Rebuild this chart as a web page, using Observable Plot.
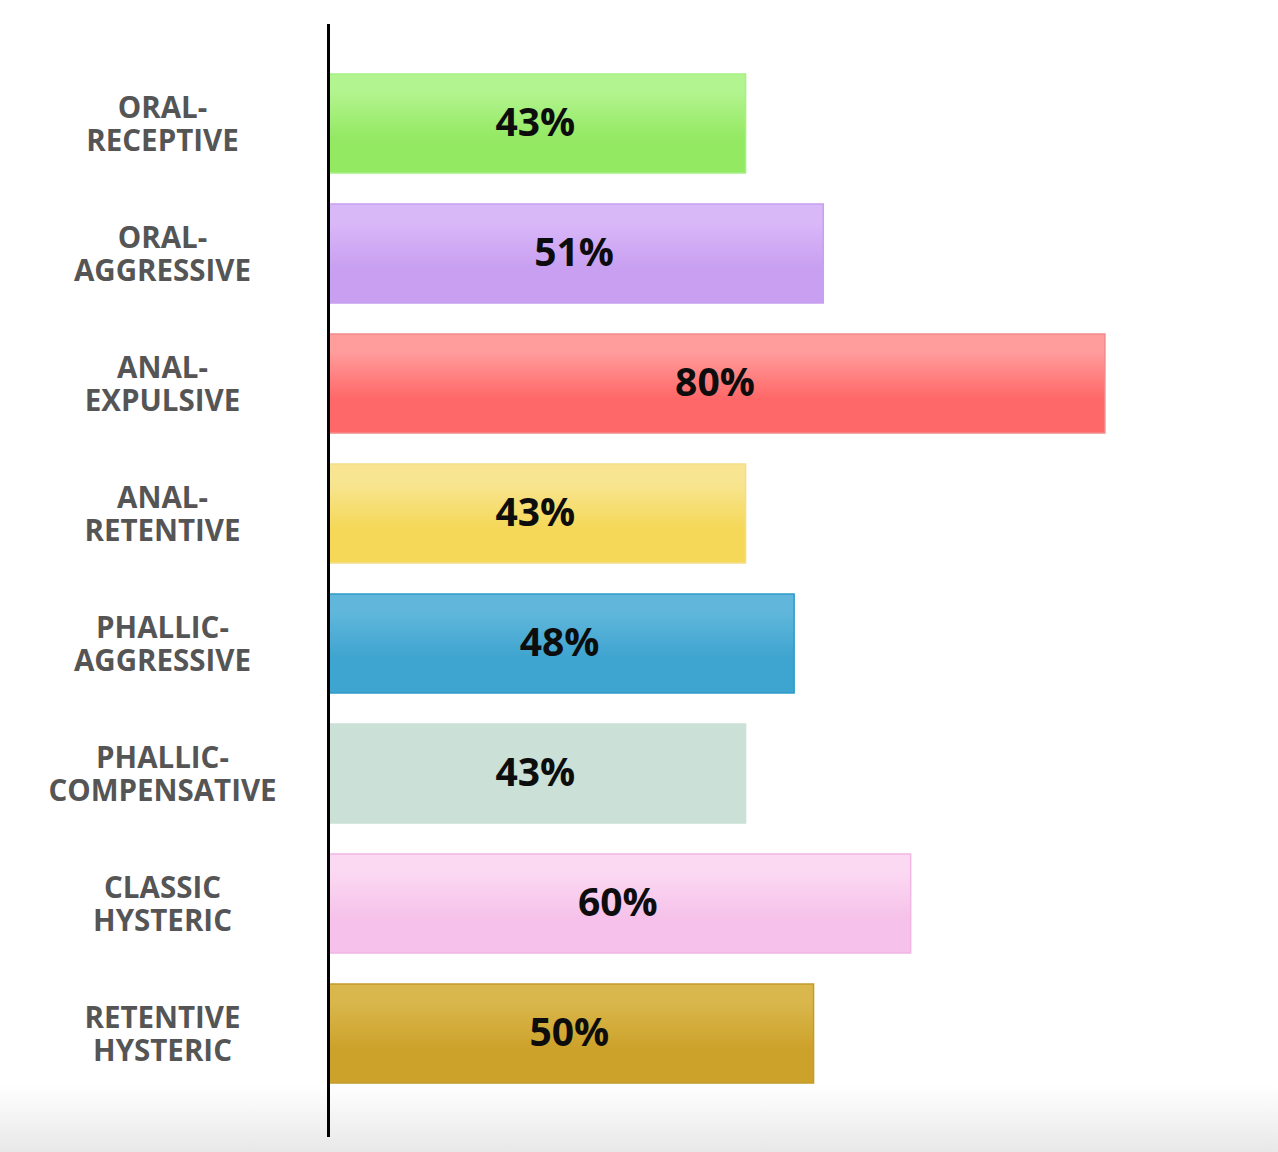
<!DOCTYPE html>
<html>
<head>
<meta charset="utf-8">
<script src="https://cdn.jsdelivr.net/npm/d3@7"></script>
<script src="https://cdn.jsdelivr.net/npm/@observablehq/plot@0.6"></script>
<style>
  html, body { margin: 0; padding: 0; }
  body {
    width: 1278px; height: 1152px; overflow: hidden;
    background: linear-gradient(to bottom, #ffffff 0px, #ffffff 1085px, #e8e8e8 1152px);
  }
</style>
</head>
<body>
<div id="chart"></div>
<script>
const categories = [
  "ORAL-RECEPTIVE", "ORAL-AGGRESSIVE", "ANAL-EXPULSIVE", "ANAL-RETENTIVE",
  "PHALLIC-AGGRESSIVE", "PHALLIC-COMPENSATIVE", "CLASSIC HYSTERIC", "RETENTIVE HYSTERIC"
];
const tickLabels = [
  "ORAL-\nRECEPTIVE", "ORAL-\nAGGRESSIVE", "ANAL-\nEXPULSIVE", "ANAL-\nRETENTIVE",
  "PHALLIC-\nAGGRESSIVE", "PHALLIC-\nCOMPENSATIVE", "CLASSIC\nHYSTERIC", "RETENTIVE\nHYSTERIC"
];
const values = [43, 51, 80, 43, 48, 43, 60, 50];

const topColors    = ["#b2f48f", "#d9b8f8", "#ff9c9c", "#f8e592", "#60b7db", "#cbe0d6", "#fbd9f2", "#d9b74c"];
const bottomColors = ["#94e963", "#c89ff1", "#ff6868", "#f5d858", "#3ea4d0", "#cbe0d6", "#f6c1ea", "#cda22b"];
const strokeColors = ["#a6ef85", "#c89ff1", "#f28a8a", "#f3dd8a", "#2f9bc9", "#cbe0d6", "#f1b6e3", "#c39b2a"];

const data = categories.map((c, i) => ({category: c, value: values[i], idx: i}));

const plot = Plot.plot({
  width: 1278,
  height: 1152,
  marginLeft: 328,
  marginRight: 76,
  marginTop: 24,
  marginBottom: 15,
  style: {background: "transparent", fontFamily: "'Open Sans', sans-serif"},
  x: {domain: [0, 90], axis: null},
  y: {domain: categories, paddingInner: 0.24, paddingOuter: 0.40, align: 0.48, label: null},
  color: {type: "identity"},
  marks: [
    Plot.barX(data, {
      x: "value", y: "category",
      fill: d => `url(#bargrad-${d.idx})`,
      stroke: d => strokeColors[d.idx],
      strokeWidth: 1.5,
      inset: 0
    }),
    Plot.text(data, {
      x: d => d.value / 2, y: "category",
      text: d => `${d.value}%`,
      fill: "#0d0d0d",
      fontSize: 39,
      fontWeight: 700,
      dx: -2
    }),
    Plot.axisY({
      tickSize: 0,
      tickFormat: d => tickLabels[categories.indexOf(d)],
      textAnchor: "middle",
      dx: -157,
      fontSize: 29.5,
      fontWeight: 700,
      fill: "#555",
      lineHeight: 1.12,
      label: null
    }),
    Plot.ruleX([0], {stroke: "#000", strokeWidth: 3})
  ]
});

// gradient definitions for the bars
const svgNS = "http://www.w3.org/2000/svg";
const defs = document.createElementNS(svgNS, "defs");
categories.forEach((c, i) => {
  const g = document.createElementNS(svgNS, "linearGradient");
  g.setAttribute("id", `bargrad-${i}`);
  g.setAttribute("x1", "0"); g.setAttribute("y1", "0");
  g.setAttribute("x2", "0"); g.setAttribute("y2", "1");
  [[0, topColors[i]], [0.18, topColors[i]], [0.65, bottomColors[i]], [1, bottomColors[i]]].forEach(([o, col]) => {
    const s = document.createElementNS(svgNS, "stop");
    s.setAttribute("offset", o);
    s.setAttribute("stop-color", col);
    g.appendChild(s);
  });
  defs.appendChild(g);
});
plot.insertBefore(defs, plot.firstChild);

document.getElementById("chart").appendChild(plot);
</script>
</body>
</html>
